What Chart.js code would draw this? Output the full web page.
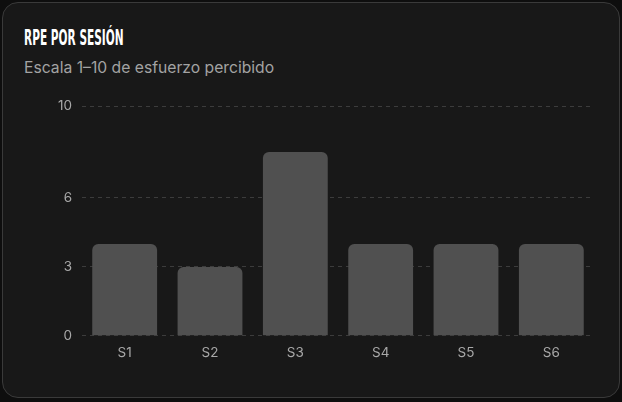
<!DOCTYPE html>
<html>
<head>
  <title>RPE por sesión</title>
  <style>
    html, body {
      margin: 0;
      padding: 0;
      background: #0e0e0e;
      width: 622px;
      height: 402px;
      overflow: hidden;
    }
    .card {
      position: absolute;
      left: 2px;
      top: 2px;
      width: 618px;
      height: 396px;
      box-sizing: border-box;
      background: #181818;
      border: 1px solid #3a3a3a;
      border-radius: 16px;
    }
    h2 {
      position: absolute;
      left: 21px;
      top: 23px;
      margin: 0;
      font-family: "DejaVu Sans Condensed", sans-serif;
      font-weight: bold;
      font-size: 21px;
      line-height: 24px;
      color: #ffffff;
      transform: scaleX(0.56);
      transform-origin: left;
      white-space: nowrap;
    }
    p {
      position: absolute;
      left: 21px;
      top: 55px;
      margin: 0;
      font-family: Inter, sans-serif;
      font-size: 15.7px;
      color: #a3a3a3;
      white-space: nowrap;
    }
    #chartWrap {
      position: absolute;
      left: 45px;
      top: 85px;
      width: 550px;
      height: 274px;
    }
  </style>
</head>
<body>
  <div class="card">
    <h2>RPE POR SESIÓN</h2>
    <p>Escala 1–10 de esfuerzo percibido</p>
    <div id="chartWrap">
      <canvas id="rpeChart"></canvas>
    </div>
  </div>

  <script src="https://cdn.jsdelivr.net/npm/chart.js"></script>
  <script>
    const sessions = ['S1', 'S2', 'S3', 'S4', 'S5', 'S6'];
    const rpeValues = [4, 3, 8, 4, 4, 4];
    const yTicks = [0, 3, 6, 10];

    const ctx = document.getElementById('rpeChart').getContext('2d');

    new Chart(ctx, {
      type: 'bar',
      data: {
        labels: sessions,
        datasets: [{
          data: rpeValues,
          backgroundColor: '#505050',
          borderRadius: 6,
          borderSkipped: 'bottom',
          categoryPercentage: 0.76,
          barPercentage: 1
        }]
      },
      options: {
        responsive: true,
        maintainAspectRatio: false,
        animation: false,
        layout: { padding: { top: 8, right: 4 } },
        plugins: {
          legend: { display: false },
          tooltip: { enabled: false }
        },
        scales: {
          x: {
            grid: { display: false },
            border: { display: false },
            ticks: {
              color: '#a8a8a8',
              font: { family: 'Inter', size: 13.5 },
              padding: 1
            }
          },
          y: {
            min: 0,
            max: 10,
            afterBuildTicks: axis => {
              axis.ticks = yTicks.map(v => ({ value: v }));
            },
            grid: {
              color: '#3c3c3c',
              drawTicks: false
            },
            border: { display: false, dash: [4, 4] },
            ticks: {
              color: '#a8a8a8',
              font: { family: 'Inter', size: 13.5 },
              padding: 10
            }
          }
        }
      }
    });
  </script>
</body>
</html>
